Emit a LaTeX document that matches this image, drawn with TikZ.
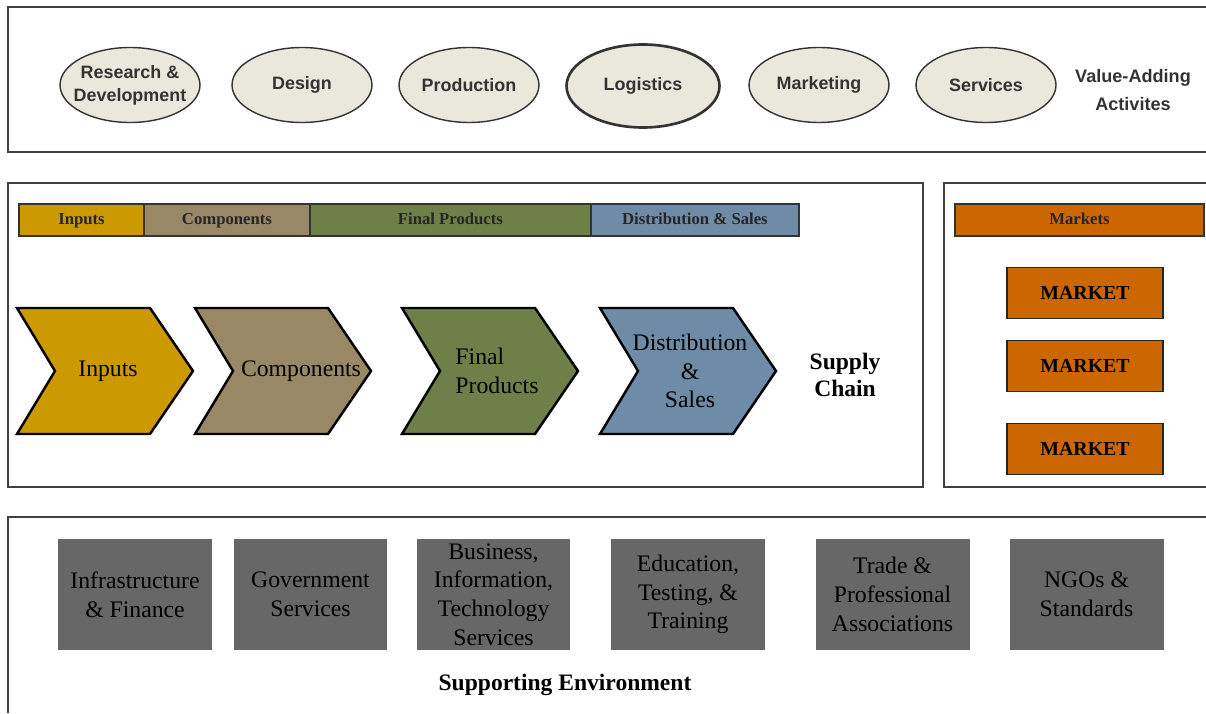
\documentclass[tikz,border=0pt]{standalone}
\usepackage{fontspec}
\setmainfont{Liberation Serif}
\setsansfont{Liberation Sans}
\usetikzlibrary{shapes.geometric,positioning}
\definecolor{activityfill}{RGB}{234,231,220}
\definecolor{inputs}{RGB}{204,153,0}
\definecolor{components}{RGB}{153,136,102}
\definecolor{finals}{RGB}{110,128,72}
\definecolor{distrib}{RGB}{110,139,168}
\definecolor{marketfill}{RGB}{204,102,0}
\definecolor{supportgray}{RGB}{103,103,103}
\tikzset{
  frame/.style={draw=black!75,line width=0.9pt},
  activity/.style={ellipse,draw=black!80,line width=0.8pt,fill=activityfill,minimum width=2.8cm,minimum height=1.5cm,inner sep=0pt,align=center,font=\sffamily\bfseries\fontsize{10.2}{13}\selectfont,text=black!80},
  stagebar/.style={draw=black!80,line width=0.8pt,minimum height=0.64cm,inner sep=0pt,outer sep=0pt,text height=1.5ex,text depth=0.3ex,font=\bfseries\fontsize{9.5}{11}\selectfont,text=black!85},
  stage/.style={draw=black,line width=1.4pt,line join=miter},
  market/.style={draw=black!85,line width=0.8pt,fill=marketfill,minimum width=3.12cm,minimum height=1.02cm,inner sep=0pt,font=\bfseries\fontsize{11.3}{13}\selectfont},
  support/.style={fill=supportgray,minimum width=3.08cm,minimum height=2.22cm,inner sep=0pt,align=center,font=\fontsize{13.5}{16.3}\selectfont}
}
\begin{document}
\begin{tikzpicture}[x=0.02cm,y=-0.02cm]
  \useasboundingbox (0,0) rectangle (1206,713);
  \draw [frame] (1206,7) -- (8,7) -- (8,152) -- (1206,152);
  \draw [frame] (8,183) rectangle (923,487);
  \draw [frame] (1206,183) -- (944,183) -- (944,487) -- (1206,487);
  \draw [frame] (1206,517) -- (8,517) -- (8,713);
  \node [activity,inner xsep=-4pt] (research) at (130,85) {Research \&\\Development};
  \node [activity] (design) at (302,85) {Design};
  \node [activity] (production) at (469,85) {Production};
  \node [activity,line width=1.5pt,minimum width=3.06cm,minimum height=1.66cm] (logistics) at (643,86) {Logistics};
  \node [activity] (marketing) at (819,85) {Marketing};
  \node [activity] (services) at (986,85) {Services};
  \node [align=center,font=\sffamily\bfseries\fontsize{10.3}{15.9}\selectfont,text=black!80] (valueadding) at (1133,90) {Value-Adding\\Activites};
  \node [stagebar,fill=inputs,minimum width=2.5cm,anchor=west] (barinputs) at (19,220) {Inputs};
  \node [stagebar,fill=components,minimum width=3.32cm,right=0pt of barinputs] (barcomp) {Components};
  \node [stagebar,fill=finals,minimum width=5.62cm,right=0pt of barcomp] (barfinal) {Final Products};
  \node [stagebar,fill=distrib,minimum width=4.16cm,right=0pt of barfinal] (bardist) {Distribution \& Sales};
  \node [stagebar,fill=marketfill,minimum width=4.98cm] (barmarkets) at (1079.5,220) {Markets};
  \foreach \x/\tx/\col/\nm/\al/\txt in {17/108/inputs/chinputs/center/Inputs, 195/301/components/chcomp/center/Components, 402/497/finals/chfinal/left/{Final\\Products}, 600/690/distrib/chdist/center/{Distribution\\\&\\Sales}}
  {
    \draw [stage,fill=\col] (\x,308) -- ++(133,0) -- ++(43,63) -- ++(-43,63) -- ++(-133,0) -- ++(38,-63) -- cycle;
    \node [align=\al,font=\fontsize{13.5}{16.3}\selectfont,inner sep=0pt] (\nm) at (\tx,371) {\txt};
  }
  \node [align=center,font=\bfseries\fontsize{13.4}{15.3}\selectfont] (supplychain) at (845,375) {Supply\\Chain};
  \node [market] (marketa) at (1085,293) {MARKET};
  \node [market] (marketb) at (1085,366) {MARKET};
  \node [market] (marketc) at (1085,449) {MARKET};
  \node [support] (infra) at (135,594.5) {Infrastructure\\\& Finance};
  \node [support] (govt) at (310.5,594.5) {Government\\Services};
  \node [support] (business) at (493.5,594.5) {Business,\\Information,\\Technology\\Services};
  \node [support] (education) at (688,594.5) {Education,\\Testing, \&\\Training};
  \node [support] (trade) at (892.5,594.5) {Trade \&\\Professional\\Associations};
  \node [support] (ngos) at (1086.5,594.5) {NGOs \&\\Standards};
  \node [font=\bfseries\fontsize{13.4}{15}\selectfont] (supporting) at (565,685) {Supporting Environment};
\end{tikzpicture}
\end{document}
